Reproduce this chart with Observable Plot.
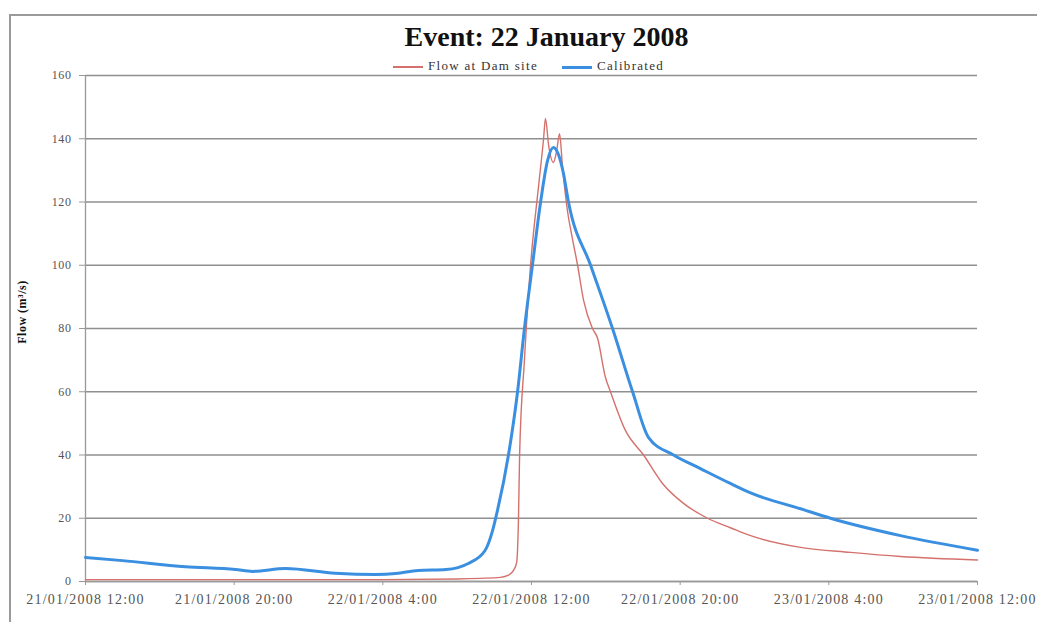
<!DOCTYPE html>
<html>
<head>
<meta charset="utf-8">
<script src="https://cdn.jsdelivr.net/npm/d3@7"></script>
<script src="https://cdn.jsdelivr.net/npm/@observablehq/plot@0.6"></script>
<style>
  html, body { margin: 0; padding: 0; background: #fff; overflow: hidden; }
  #wrap { position: relative; width: 1037px; height: 622px; overflow: hidden; font-family: "Liberation Serif", "DejaVu Serif", serif; }
  #frame { position: absolute; left: 9px; top: 14px; width: 2000px; height: 2000px; border-left: 2px solid #9a9a9a; border-top: 2px solid #9a9a9a; }
  #title { position: absolute; left: 28px; width: 1037px; top: 21px; text-align: center; font-size: 28px; font-weight: bold; color: #111; }
  #legend { position: absolute; left: 393px; top: 58px; font-size: 13px; letter-spacing: 1.3px; color: #333; white-space: nowrap; }
  #legend span.item { display: inline-block; }
  #legend span.item + span.item { margin-left: 24px; }
  #legend span.swatch { display: inline-block; width: 30px; height: 0; vertical-align: middle; margin-right: 5px; }
  #ylabel { position: absolute; left: 22px; top: 312px; transform: translate(-50%, -50%) rotate(-90deg); font-size: 12px; font-weight: bold; letter-spacing: 0.5px; color: #111; white-space: nowrap; }
  #chart { position: absolute; left: 0; top: 60px; }
  #chart svg [aria-label="x-axis tick label"] text { letter-spacing: 1.2px; }
  #chart svg [aria-label="y-axis tick label"] text { letter-spacing: 0.6px; }
</style>
</head>
<body>
<div id="wrap">
  <div id="frame"></div>
  <div id="title">Event: 22 January 2008</div>
  <div id="legend"></div>
  <div id="ylabel">Flow (m³/s)</div>
  <div id="chart"></div>
</div>
<script>
// Hours after 21/01/2008 12:00 and flow in m³/s for each series
const damHours = [0, 8, 16, 20, 21.26, 22.33, 22.76, 23.03, 23.2, 23.3, 23.36, 23.62, 23.95, 24.38, 24.65, 24.75, 24.92, 25.18, 25.35, 25.51, 25.67, 25.94, 26.15, 26.48, 26.8, 27.28, 27.55, 27.98, 28.25, 29.06, 30.03, 31.05, 32.18, 33.47, 34.71, 35.79, 38.48, 41.17, 43.86, 48];
const damFlow  = [0.6, 0.6, 0.6, 0.8, 1.0, 1.3, 2.0, 3.5, 6, 20, 40, 70, 100, 125, 140, 146.4, 138, 132.5, 136, 141.6, 131, 117, 110, 100, 89, 80, 77, 64.5, 60, 47.7, 40, 31, 24.7, 20, 17, 14.5, 10.8, 9.2, 7.9, 6.8];

const calHours = [0, 2, 5.38, 8.07, 8.99, 10.76, 13.45, 15.6, 16.7, 17.9, 19.4, 20.6, 21.5, 21.9, 22.07, 22.76, 23.25, 23.62, 24.05, 24.49, 24.86, 25.18, 25.45, 25.72, 25.99, 27.18, 28.36, 29.44, 30.3, 31.64, 33.09, 34.7, 35.79, 38.48, 40.09, 43.86, 48];
const calFlow  = [7.6, 6.6, 4.7, 3.8, 3.2, 4.1, 2.6, 2.2, 2.5, 3.5, 3.8, 5.7, 9.8, 16, 20, 40, 60, 80, 100, 120, 133, 137.2, 135, 129, 120, 100, 80, 60, 45.5, 40, 35.7, 31, 28, 23, 20, 14.5, 9.9];

const seriesNames  = ["Flow at Dam site", "Calibrated"];
const seriesColors = ["#d4716c", "#3b8fe0"];
const yTicks = [0, 20, 40, 60, 80, 100, 120, 140, 160];
const tickTimes = ["2008-01-21T12:00Z", "2008-01-21T20:00Z", "2008-01-22T04:00Z", "2008-01-22T12:00Z", "2008-01-22T20:00Z", "2008-01-23T04:00Z", "2008-01-23T12:00Z"];

const start = Date.UTC(2008, 0, 21, 12);
const toDate = h => new Date(start + h * 3600e3);
const dam = damHours.map((h, i) => ({t: toDate(h), v: damFlow[i]}));
const cal = calHours.map((h, i) => ({t: toDate(h), v: calFlow[i]}));
const ticks = tickTimes.map(s => new Date(s));
const dayFmt = d3.utcFormat("%d/%m/%Y");
const minFmt = d3.utcFormat("%M");
const fmt = d => `${dayFmt(d)} ${d.getUTCHours()}:${minFmt(d)}`;

// Legend
const legend = document.getElementById("legend");
seriesNames.forEach((name, i) => {
  const item = document.createElement("span");
  item.className = "item";
  const sw = document.createElement("span");
  sw.className = "swatch";
  sw.style.borderTop = `${i === 0 ? 2 : 3}px solid ${seriesColors[i]}`;
  item.appendChild(sw);
  item.appendChild(document.createTextNode(name));
  legend.appendChild(item);
});

const chart = Plot.plot({
  width: 1037,
  height: 562,
  marginTop: 15,
  marginBottom: 41,
  marginLeft: 85,
  marginRight: 60,
  style: {fontFamily: "'Liberation Serif', 'DejaVu Serif', serif", fontSize: "13px", color: "#555", background: "transparent"},
  x: {type: "utc", domain: [toDate(0), toDate(48)]},
  y: {domain: [0, 160]},
  marks: [
    Plot.gridY(yTicks, {stroke: "#8f8f8f", strokeOpacity: 1, strokeWidth: 1.3}),
    Plot.ruleX([toDate(0)], {stroke: "#999", strokeWidth: 1.3}),
    Plot.ruleY([0], {stroke: "#999", strokeWidth: 1.3}),
    Plot.axisY({ticks: yTicks, tickSize: 6, tickPadding: 8, stroke: "#999", fontSize: 12, label: null}),
    Plot.axisX({ticks: ticks, tickFormat: fmt, tickSize: 4, tickPadding: 9, stroke: "#999", label: null, fontSize: 14}),
    Plot.line(dam, {x: "t", y: "v", stroke: seriesColors[0], strokeWidth: 1.4, curve: "monotone-x"}),
    Plot.line(cal, {x: "t", y: "v", stroke: seriesColors[1], strokeWidth: 3, curve: "monotone-x"})
  ]
});
document.getElementById("chart").appendChild(chart);
</script>
</body>
</html>
